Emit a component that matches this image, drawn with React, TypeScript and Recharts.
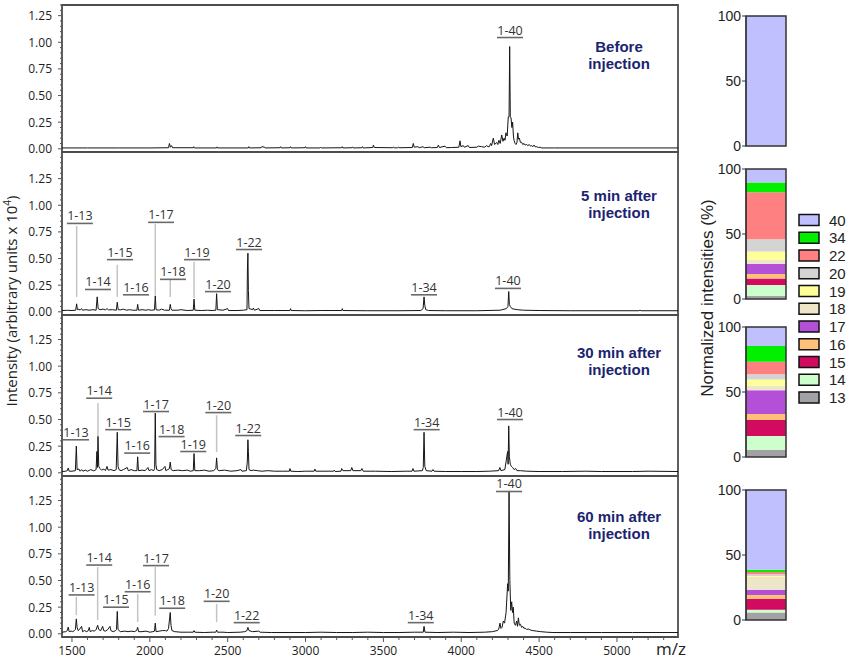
import React from 'react';
import {
  LineChart,
  Line,
  XAxis,
  YAxis,
  ReferenceArea,
  ReferenceDot,
  ReferenceLine,
  BarChart,
  Bar,
} from 'recharts';

// ---------------- DATA ----------------
const MZ_MIN = 1436;
const MZ_MAX = 5392;

const xTickValues = [
  1500, 1600, 1700, 1800, 1900, 2000, 2100, 2200, 2300, 2400, 2500, 2600, 2700, 2800, 2900, 3000,
  3100, 3200, 3300, 3400, 3500, 3600, 3700, 3800, 3900, 4000, 4100, 4200, 4300, 4400, 4500, 4600,
  4700, 4800, 4900, 5000, 5100, 5200, 5300,
];
const xTickLabels = [1500, 2000, 2500, 3000, 3500, 4000, 4500, 5000];
const yTickValues = [
  0, 0.05, 0.1, 0.15, 0.2, 0.25, 0.3, 0.35, 0.4, 0.45, 0.5, 0.55, 0.6, 0.65, 0.7, 0.75, 0.8, 0.85,
  0.9, 0.95, 1.0, 1.05, 1.1, 1.15, 1.2, 1.25, 1.3, 1.35, 1.4, 1.45,
];
const yTickLabels = [0, 0.25, 0.5, 0.75, 1.0, 1.25];

// spectra: [m/z, intensity (x10^4)]
const specBefore: [number, number][] = [
  [1436, 0.008], [1600, 0.008], [1800, 0.008], [2000, 0.008], [2120, 0.01], [2126, 0.05], [2132, 0.015],
  [2140, 0.03], [2146, 0.01], [2279, 0.01], [2282, 0.02], [2286, 0.008], [2429, 0.008], [2432, 0.018],
  [2436, 0.008], [2632, 0.008], [2636, 0.02], [2640, 0.008], [2715, 0.01], [2720, 0.022], [2728, 0.015],
  [2734, 0.02], [2740, 0.008], [2836, 0.01], [2840, 0.02], [2844, 0.008], [2900, 0.01], [2904, 0.02],
  [2908, 0.008], [2996, 0.01], [3000, 0.02], [3004, 0.008], [3093, 0.008], [3097, 0.015], [3101, 0.008],
  [3232, 0.01], [3236, 0.02], [3240, 0.008], [3298, 0.01], [3302, 0.018], [3306, 0.008], [3362, 0.01],
  [3366, 0.02], [3370, 0.008], [3432, 0.012], [3436, 0.035], [3442, 0.012], [3560, 0.01], [3564, 0.018],
  [3570, 0.008], [3592, 0.01], [3596, 0.015], [3600, 0.01], [3686, 0.012], [3692, 0.05], [3698, 0.015],
  [3722, 0.02], [3730, 0.01], [3754, 0.02], [3762, 0.01], [3800, 0.015], [3808, 0.01], [3846, 0.012],
  [3853, 0.035], [3860, 0.012], [3896, 0.025], [3904, 0.01], [3939, 0.012], [3985, 0.015], [3992, 0.075],
  [3998, 0.02], [4013, 0.03], [4020, 0.015], [4045, 0.03], [4052, 0.012], [4100, 0.015], [4110, 0.025],
  [4131, 0.02], [4150, 0.015], [4163, 0.03], [4172, 0.02], [4180, 0.02], [4189, 0.05], [4195, 0.03],
  [4206, 0.1], [4214, 0.04], [4228, 0.06], [4235, 0.04], [4242, 0.08], [4250, 0.05], [4260, 0.13],
  [4268, 0.07], [4275, 0.1], [4281, 0.08], [4287, 0.15], [4295, 0.12], [4302, 0.3], [4307, 0.3],
  [4311, 0.96], [4315, 0.3], [4320, 0.29], [4325, 0.2], [4330, 0.25], [4335, 0.12], [4339, 0.08],
  [4346, 0.05], [4352, 0.04], [4358, 0.06], [4363, 0.15], [4368, 0.09], [4373, 0.1], [4380, 0.06],
  [4388, 0.06], [4395, 0.04], [4403, 0.05], [4410, 0.035], [4420, 0.04], [4428, 0.03], [4437, 0.04],
  [4445, 0.025], [4452, 0.03], [4460, 0.02], [4467, 0.035], [4475, 0.018], [4485, 0.02], [4495, 0.012],
  [4506, 0.015], [4517, 0.008], [4600, 0.008], [5000, 0.008], [5392, 0.008],
];

const spec5min: [number, number][] = [
  [1436, 0.012], [1470, 0.014], [1500, 0.012], [1524, 0.015], [1530, 0.075], [1535, 0.02], [1545, 0.025],
  [1552, 0.015], [1562, 0.03], [1568, 0.015], [1590, 0.02], [1610, 0.015], [1635, 0.02], [1655, 0.015],
  [1662, 0.14], [1668, 0.03], [1680, 0.02], [1700, 0.025], [1715, 0.018], [1725, 0.03], [1735, 0.018],
  [1760, 0.02], [1785, 0.015], [1791, 0.09], [1797, 0.02], [1810, 0.018], [1830, 0.025], [1850, 0.015],
  [1870, 0.02], [1890, 0.015], [1917, 0.015], [1922, 0.07], [1927, 0.015], [1950, 0.02], [1975, 0.015],
  [1990, 0.02], [2010, 0.015], [2030, 0.018], [2035, 0.15], [2040, 0.02], [2060, 0.015], [2075, 0.025],
  [2095, 0.015], [2126, 0.015], [2131, 0.07], [2136, 0.03], [2142, 0.015], [2180, 0.015], [2200, 0.02],
  [2240, 0.012], [2279, 0.015], [2284, 0.12], [2289, 0.015], [2330, 0.012], [2370, 0.015], [2400, 0.012],
  [2424, 0.015], [2429, 0.17], [2434, 0.02], [2470, 0.015], [2500, 0.03], [2505, 0.012], [2560, 0.012],
  [2600, 0.015], [2624, 0.02], [2627, 0.42], [2630, 0.55], [2633, 0.2], [2637, 0.03], [2650, 0.025],
  [2660, 0.02], [2665, 0.035], [2672, 0.015], [2700, 0.03], [2706, 0.012], [2800, 0.012], [2900, 0.012],
  [2904, 0.03], [2908, 0.012], [3000, 0.01], [3100, 0.012], [3232, 0.012], [3236, 0.03], [3240, 0.012],
  [3400, 0.01], [3600, 0.01], [3740, 0.012], [3755, 0.03], [3761, 0.14], [3766, 0.06], [3772, 0.02],
  [3790, 0.012], [3900, 0.01], [4100, 0.01], [4250, 0.015], [4290, 0.03], [4300, 0.05], [4305, 0.19],
  [4309, 0.07], [4315, 0.05], [4325, 0.03], [4340, 0.025], [4360, 0.02], [4400, 0.015], [4500, 0.012],
  [4700, 0.01], [5140, 0.01], [5148, 0.015], [5156, 0.01], [5392, 0.01],
];

const spec30min: [number, number][] = [
  [1436, 0.012], [1460, 0.015], [1470, 0.02], [1476, 0.045], [1482, 0.015], [1500, 0.015], [1522, 0.02],
  [1528, 0.25], [1533, 0.03], [1545, 0.035], [1552, 0.015], [1562, 0.03], [1570, 0.015], [1585, 0.025],
  [1600, 0.015], [1620, 0.03], [1640, 0.018], [1655, 0.03], [1660, 0.2], [1664, 0.05], [1667, 0.34],
  [1672, 0.06], [1680, 0.04], [1690, 0.025], [1705, 0.035], [1715, 0.02], [1725, 0.06], [1732, 0.025],
  [1750, 0.03], [1770, 0.02], [1784, 0.03], [1791, 0.38], [1796, 0.06], [1802, 0.03], [1815, 0.02],
  [1830, 0.03], [1855, 0.05], [1862, 0.02], [1880, 0.03], [1900, 0.02], [1917, 0.02], [1922, 0.15],
  [1927, 0.02], [1950, 0.025], [1970, 0.02], [1988, 0.05], [1995, 0.02], [2010, 0.03], [2025, 0.02],
  [2031, 0.04], [2035, 0.56], [2039, 0.08], [2044, 0.03], [2060, 0.02], [2080, 0.03], [2097, 0.06],
  [2103, 0.02], [2115, 0.03], [2126, 0.04], [2131, 0.1], [2137, 0.03], [2150, 0.02], [2180, 0.025],
  [2210, 0.02], [2240, 0.025], [2260, 0.015], [2279, 0.02], [2284, 0.18], [2289, 0.02], [2320, 0.02],
  [2350, 0.025], [2380, 0.015], [2410, 0.02], [2424, 0.04], [2429, 0.14], [2434, 0.03], [2445, 0.02],
  [2480, 0.025], [2520, 0.015], [2560, 0.02], [2585, 0.03], [2592, 0.015], [2620, 0.02], [2626, 0.1],
  [2630, 0.31], [2633, 0.2], [2637, 0.03], [2650, 0.02], [2665, 0.025], [2690, 0.02], [2720, 0.015],
  [2760, 0.02], [2800, 0.015], [2850, 0.015], [2896, 0.015], [2900, 0.04], [2905, 0.015], [2950, 0.012],
  [3000, 0.015], [3055, 0.015], [3060, 0.035], [3066, 0.015], [3150, 0.015], [3180, 0.015], [3185, 0.025],
  [3190, 0.012], [3228, 0.015], [3232, 0.04], [3240, 0.02], [3290, 0.02], [3297, 0.05], [3304, 0.02],
  [3355, 0.02], [3362, 0.04], [3370, 0.015], [3450, 0.015], [3550, 0.012], [3650, 0.015], [3684, 0.015],
  [3690, 0.04], [3696, 0.015], [3750, 0.02], [3756, 0.05], [3761, 0.38], [3766, 0.06], [3775, 0.02],
  [3812, 0.015], [3818, 0.03], [3825, 0.015], [3900, 0.012], [4000, 0.012], [4100, 0.012], [4180, 0.015],
  [4240, 0.02], [4248, 0.05], [4255, 0.02], [4280, 0.03], [4298, 0.2], [4301, 0.08], [4305, 0.44],
  [4309, 0.15], [4315, 0.08], [4322, 0.06], [4330, 0.05], [4340, 0.03], [4350, 0.04], [4358, 0.02],
  [4380, 0.02], [4420, 0.015], [4500, 0.012], [4650, 0.012], [4800, 0.015], [4900, 0.012], [5100, 0.012],
  [5200, 0.015], [5392, 0.012],
];

const spec60min: [number, number][] = [
  [1436, 0.015], [1460, 0.02], [1470, 0.03], [1476, 0.063], [1482, 0.02], [1495, 0.025], [1505, 0.02],
  [1515, 0.03], [1522, 0.04], [1528, 0.14], [1533, 0.06], [1540, 0.03], [1548, 0.04], [1562, 0.07],
  [1568, 0.02], [1580, 0.03], [1595, 0.02], [1605, 0.03], [1611, 0.06], [1617, 0.02], [1630, 0.03],
  [1645, 0.025], [1655, 0.04], [1665, 0.08], [1672, 0.04], [1685, 0.03], [1697, 0.07], [1704, 0.03],
  [1715, 0.025], [1730, 0.04], [1744, 0.07], [1750, 0.03], [1765, 0.02], [1780, 0.03], [1786, 0.04],
  [1791, 0.21], [1796, 0.04], [1810, 0.02], [1840, 0.025], [1860, 0.02], [1880, 0.025], [1900, 0.02],
  [1915, 0.03], [1922, 0.06], [1928, 0.02], [1950, 0.02], [1975, 0.025], [2000, 0.015], [2020, 0.02],
  [2030, 0.025], [2035, 0.1], [2040, 0.02], [2060, 0.025], [2080, 0.03], [2100, 0.03], [2110, 0.025],
  [2120, 0.05], [2126, 0.13], [2131, 0.2], [2136, 0.08], [2142, 0.03], [2160, 0.02], [2200, 0.015],
  [2250, 0.015], [2279, 0.015], [2284, 0.03], [2289, 0.015], [2350, 0.012], [2400, 0.015], [2424, 0.015],
  [2429, 0.035], [2434, 0.015], [2470, 0.015], [2500, 0.012], [2580, 0.015], [2610, 0.02], [2624, 0.03],
  [2630, 0.06], [2637, 0.03], [2660, 0.02], [2700, 0.025], [2708, 0.015], [2780, 0.012], [2900, 0.012],
  [3000, 0.012], [3100, 0.015], [3200, 0.012], [3300, 0.012], [3400, 0.015], [3500, 0.012], [3600, 0.012],
  [3700, 0.015], [3756, 0.015], [3761, 0.07], [3767, 0.015], [3850, 0.012], [3950, 0.015], [4050, 0.012],
  [4150, 0.015], [4200, 0.02], [4230, 0.03], [4240, 0.04], [4249, 0.1], [4255, 0.05], [4262, 0.06],
  [4270, 0.12], [4278, 0.1], [4288, 0.2], [4298, 0.47], [4302, 0.4], [4307, 1.34], [4312, 0.5],
  [4318, 0.22], [4324, 0.3], [4329, 0.2], [4334, 0.25], [4340, 0.1], [4348, 0.08], [4356, 0.12],
  [4361, 0.07], [4367, 0.15], [4373, 0.08], [4380, 0.09], [4388, 0.06], [4395, 0.07], [4403, 0.05],
  [4410, 0.055], [4420, 0.04], [4430, 0.045], [4445, 0.035], [4460, 0.03], [4485, 0.025], [4510, 0.02],
  [4550, 0.015], [4589, 0.012], [4700, 0.012], [4900, 0.012], [5100, 0.012], [5392, 0.012],
];

type PeakLabel = { t: string; mz: number; y: number; lead?: [number, number, number] };

const labelsBefore: PeakLabel[] = [{ t: '1-40', mz: 4313, y: 1.115 }];

const labels5min: PeakLabel[] = [
  { t: '1-13', mz: 1551, y: 0.9, lead: [1530, 0.805, 0.14] },
  { t: '1-14', mz: 1667, y: 0.28 },
  { t: '1-15', mz: 1808, y: 0.56, lead: [1791, 0.44, 0.14] },
  { t: '1-16', mz: 1911, y: 0.23 },
  { t: '1-17', mz: 2072, y: 0.91, lead: [2035, 0.825, 0.16] },
  { t: '1-18', mz: 2149, y: 0.375, lead: [2131, 0.3, 0.14] },
  { t: '1-19', mz: 2303, y: 0.56, lead: [2284, 0.47, 0.13] },
  { t: '1-20', mz: 2438, y: 0.26 },
  { t: '1-22', mz: 2637, y: 0.655 },
  { t: '1-34', mz: 3761, y: 0.23 },
  { t: '1-40', mz: 4300, y: 0.29 },
];

const labels30min: PeakLabel[] = [
  { t: '1-13', mz: 1526, y: 0.38 },
  { t: '1-14', mz: 1675, y: 0.77, lead: [1667, 0.655, 0.335] },
  { t: '1-15', mz: 1797, y: 0.475 },
  { t: '1-16', mz: 1919, y: 0.255 },
  { t: '1-17', mz: 2040, y: 0.645 },
  { t: '1-18', mz: 2140, y: 0.41 },
  { t: '1-19', mz: 2279, y: 0.27 },
  { t: '1-20', mz: 2440, y: 0.635, lead: [2429, 0.54, 0.195] },
  { t: '1-22', mz: 2632, y: 0.42 },
  { t: '1-34', mz: 3778, y: 0.475 },
  { t: '1-40', mz: 4313, y: 0.57 },
];

const labels60min: PeakLabel[] = [
  { t: '1-13', mz: 1562, y: 0.435, lead: [1528, 0.345, 0.175] },
  { t: '1-14', mz: 1675, y: 0.715, lead: [1665, 0.625, 0.13] },
  { t: '1-15', mz: 1783, y: 0.32 },
  { t: '1-16', mz: 1922, y: 0.465, lead: [1922, 0.375, 0.11] },
  { t: '1-17', mz: 2040, y: 0.71, lead: [2035, 0.625, 0.17] },
  { t: '1-18', mz: 2144, y: 0.31 },
  { t: '1-20', mz: 2429, y: 0.375, lead: [2429, 0.28, 0.11] },
  { t: '1-22', mz: 2622, y: 0.175 },
  { t: '1-34', mz: 3740, y: 0.175 },
  { t: '1-40', mz: 4307, y: 1.405 },
];

const panelTitles = [
  ['Before', 'injection'],
  ['5 min after', 'injection'],
  ['30 min after', 'injection'],
  ['60 min after', 'injection'],
];

// normalized intensities (%), bottom → top
const fragments = ['13', '14', '15', '16', '17', '18', '19', '20', '22', '34', '40'];
const fragmentColors = [
  '#A2A2A6', '#CCFFCC', '#D20A60', '#FFC07A', '#B450D8', '#EDE6C8', '#FFFF99', '#D4D4D4', '#FF8080',
  '#00F000', '#C0C0FF',
];
const compBefore = [0, 0, 0, 0, 0, 0, 0, 0, 0, 0, 100];
const comp5min = [2.3, 8.5, 4.9, 3.6, 7.7, 3.1, 6.4, 9.5, 36.2, 7.4, 10.4];
const comp30min = [5.6, 10.6, 12.3, 4.6, 18.2, 3.6, 4.8, 3.9, 9.7, 12.1, 14.6];
const comp60min = [5.8, 2.1, 8.2, 3.1, 4.1, 9.7, 0.8, 1.3, 1.8, 1.8, 61.3];

// ---------------- LAYOUT ----------------
const PLOT_LEFT = 62;
const PLOT_RIGHT = 678;
const Y_MIN = -0.03;
const PAD = 9;
const TEXT_FONT = '"Open Sans", "DejaVu Sans", sans-serif';
const ARIAL = '"Liberation Sans", Arial, sans-serif';
const TITLE_COLOR = '#1B2470';

const panelLayout = [
  { top: 5, height: 147, yMax: 1.35, titleY: 46 },
  { top: 152, height: 163, yMax: 1.5, titleY: 195 },
  { top: 315, height: 161, yMax: 1.48, titleY: 352 },
  { top: 476, height: 161, yMax: 1.48, titleY: 516 },
];
const barTops = [16, 169, 327, 490];
const BAR_H = 130;
const BAR_LEFT = 746;
const BAR_W = 40;
const BAR_AXIS_W = 34;

const YTick = (props: any) => {
  const { x, y, payload } = props;
  const v = payload.value as number;
  const major = yTickLabels.some((t) => Math.abs(t - v) < 1e-6);
  const ax = x + 10;
  return (
    <g>
      <line x1={ax} x2={ax - (major ? 4 : 2)} y1={y} y2={y} stroke="#555" strokeWidth={1} />
      {major && (
        <text x={x} y={y} textAnchor="end" dominantBaseline="central" fontFamily={TEXT_FONT} fontSize={12} fill="#222">
          {v.toFixed(2)}
        </text>
      )}
    </g>
  );
};

const XTick = (props: any) => {
  const { x, y, payload } = props;
  const v = payload.value as number;
  const major = xTickLabels.includes(v);
  return (
    <g>
      <line x1={x} x2={x} y1={y} y2={y + (major ? 5 : 3)} stroke="#555" strokeWidth={1} />
      {major && (
        <text x={x} y={y + 13} textAnchor="middle" dominantBaseline="central" fontFamily={TEXT_FONT} fontSize={12} fill="#222">
          {v}
        </text>
      )}
    </g>
  );
};

const PeakTag = ({ cx, cy, text }: { cx: number; cy: number; text: string }) => (
  <g>
    <text x={cx} y={cy} textAnchor="middle" dominantBaseline="central" fontFamily={TEXT_FONT} fontSize={12.5} fill="#333">
      {text}
    </text>
    <line x1={cx - 13} x2={cx + 13} y1={cy + 7.5} y2={cy + 7.5} stroke="#6a6a6a" strokeWidth={1.6} />
  </g>
);

function SpectrumPanel({
  spectrum,
  labels,
  layout,
  showX,
}: {
  spectrum: [number, number][];
  labels: PeakLabel[];
  layout: { top: number; height: number; yMax: number };
  showX: boolean;
}) {
  const data = spectrum.map(([mz, v]) => ({ mz, v }));
  const xH = showX ? 30 : 0;
  const bottomPad = showX ? 0 : PAD;
  const yTicks = yTickValues.filter((t) => t <= layout.yMax + 1e-9);
  return (
    <div style={{ position: 'absolute', left: 0, top: layout.top - PAD }}>
      <LineChart
        width={PLOT_RIGHT + 22}
        height={layout.height + xH + PAD + bottomPad}
        data={data}
        margin={{ top: PAD, right: 22, bottom: bottomPad, left: 0 }}
      >
        <XAxis
          dataKey="mz"
          type="number"
          domain={[MZ_MIN, MZ_MAX]}
          allowDataOverflow
          hide={!showX}
          height={30}
          ticks={xTickValues}
          interval={0}
          tick={<XTick />}
          tickLine={false}
          tickSize={0}
          tickMargin={0}
          axisLine={false}
        />
        <YAxis
          type="number"
          domain={[Y_MIN, layout.yMax]}
          allowDataOverflow
          width={PLOT_LEFT}
          ticks={yTicks}
          interval={0}
          tick={<YTick />}
          tickLine={false}
          tickSize={0}
          tickMargin={10}
          axisLine={false}
        />
        {labels
          .filter((l) => l.lead)
          .map((l) => (
            <ReferenceLine
              key={'lead' + l.t}
              segment={[
                { x: l.lead![0], y: l.lead![1] },
                { x: l.lead![0], y: l.lead![2] },
              ]}
              stroke="#c4c4c4"
              strokeWidth={1.5}
              ifOverflow="visible"
            />
          ))}
        <Line
          type="linear"
          dataKey="v"
          stroke="#151515"
          strokeWidth={1}
          dot={false}
          activeDot={false}
          isAnimationActive={false}
        />
        {labels.map((l) => (
          <ReferenceDot
            key={'lab' + l.t}
            x={l.mz}
            y={l.y}
            r={0}
            ifOverflow="visible"
            shape={(p: any) => <PeakTag cx={p.cx} cy={p.cy} text={l.t} />}
          />
        ))}
        <ReferenceArea
          x1={MZ_MIN}
          x2={MZ_MAX}
          y1={Y_MIN}
          y2={layout.yMax}
          fill="none"
          fillOpacity={0}
          stroke="#4d4d4d"
          strokeWidth={1.8}
          ifOverflow="visible"
        />
      </LineChart>
    </div>
  );
}

function CompositionBar({ comp, top }: { comp: number[]; top: number }) {
  const row: Record<string, any> = { name: 't' };
  fragments.forEach((f, i) => {
    row['f' + f] = comp[i];
  });
  row.total = comp.reduce((a, b) => a + b, 0);
  return (
    <div style={{ position: 'absolute', left: BAR_LEFT - BAR_AXIS_W, top: top - 8 }}>
      <BarChart
        width={BAR_AXIS_W + BAR_W + 3}
        height={BAR_H + 16}
        data={[row]}
        margin={{ top: 8, right: 3, bottom: 8, left: 0 }}
        barCategoryGap={0}
        barGap={0}
      >
        <XAxis dataKey="name" hide />
        <XAxis dataKey="name" hide xAxisId="outline" />
        <YAxis
          type="number"
          domain={[0, 100]}
          ticks={[0, 50, 100]}
          interval={0}
          width={BAR_AXIS_W}
          tickSize={4}
          tickMargin={1}
          tick={{ fontFamily: ARIAL, fontSize: 14, fill: '#222' }}
          axisLine={{ stroke: '#333' }}
          tickLine={{ stroke: '#333' }}
        />
        {fragments.map((f, i) => (
          <Bar key={f} dataKey={'f' + f} stackId="s" fill={fragmentColors[i]} isAnimationActive={false} />
        ))}
        <Bar
          dataKey="total"
          xAxisId="outline"
          fill="none"
          fillOpacity={0}
          stroke="#333"
          strokeWidth={1.5}
          isAnimationActive={false}
        />
      </BarChart>
    </div>
  );
}

export default function App() {
  const spectra = [specBefore, spec5min, spec30min, spec60min];
  const labelSets = [labelsBefore, labels5min, labels30min, labels60min];
  const comps = [compBefore, comp5min, comp30min, comp60min];
  const legendOrder = fragments.map((f, i) => ({ f, c: fragmentColors[i] })).reverse();
  return (
    <div style={{ position: 'absolute', left: 0, top: 0, width: 851, height: 661, background: '#fff', fontFamily: TEXT_FONT }}>
      {spectra.map((s, i) => (
        <SpectrumPanel key={i} spectrum={s} labels={labelSets[i]} layout={panelLayout[i]} showX={i === 3} />
      ))}
      {comps.map((c, i) => (
        <CompositionBar key={i} comp={c} top={barTops[i]} />
      ))}
      <svg width={851} height={661} style={{ position: 'absolute', left: 0, top: 0, pointerEvents: 'none' }}>
        <text transform="translate(17,301) rotate(-90)" textAnchor="middle" fontFamily={TEXT_FONT} fontSize={15} fill="#222">
          Intensity (arbitrary units x 10
          <tspan dy={-6} fontSize={10}>4</tspan>
          <tspan dy={6}>)</tspan>
        </text>
        <text x={656} y={655} fontFamily={TEXT_FONT} fontSize={17} fill="#222">
          m/z
        </text>
        <text transform="translate(713,298) rotate(-90)" textAnchor="middle" fontFamily={ARIAL} fontSize={17} fill="#222">
          Normalized intensities (%)
        </text>
        {panelTitles.map((lines, i) => (
          <g key={i}>
            {lines.map((ln, j) => (
              <text
                key={j}
                x={619}
                y={panelLayout[i].titleY + j * 17.5}
                textAnchor="middle"
                dominantBaseline="central"
                fontFamily={ARIAL}
                fontWeight="bold"
                fontSize={15}
                fill={TITLE_COLOR}
              >
                {ln}
              </text>
            ))}
          </g>
        ))}
        {legendOrder.map((it, i) => (
          <g key={it.f}>
            <rect x={799} y={220 + i * 17.75 - 5.5} width={20} height={11} fill={it.c} stroke="#111" strokeWidth={1.5} />
            <text x={829} y={220 + i * 17.75} dominantBaseline="central" fontFamily={ARIAL} fontSize={15} fill="#222">
              {it.f}
            </text>
          </g>
        ))}
      </svg>
    </div>
  );
}
